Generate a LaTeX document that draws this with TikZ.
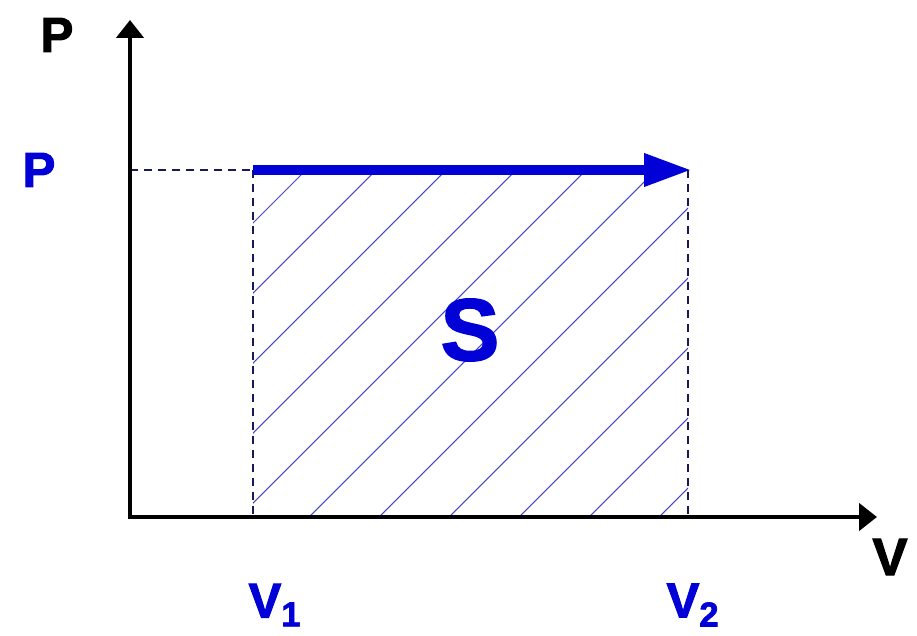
\documentclass[tikz,border=0pt]{standalone}
\usepackage{fontspec}
\setmainfont{Liberation Sans}
\newfontfamily\heavyfont[FakeBold=2]{Liberation Sans Bold}
\usetikzlibrary{arrows.meta,positioning}

\definecolor{pvblue}{RGB}{0,0,215}
\definecolor{hatchblue}{RGB}{70,70,195}
\definecolor{dashnavy}{RGB}{25,25,90}

\begin{document}
\begin{tikzpicture}[
    axis/.style={line width=2.8pt, -{Triangle[length=0.36cm, width=0.54cm]}},
    work/.style={pvblue, line width=5.5pt, -{Triangle[length=0.95cm, width=0.62cm]}, shorten >=-2pt},
    guide/.style={dashnavy, line width=0.8pt, dash pattern=on 0.16cm off 0.12cm},
    hatch/.style={hatchblue, line width=0.6pt},
    lbl/.style={font=\fontsize{28}{30}\heavyfont, inner sep=0pt},
  ]
  \useasboundingbox (-2.6,-2.36) rectangle (15.74,10.34);

  % corner points
  \coordinate (O) at (0,0);
  \coordinate (ytip) at (0,9.94);
  \coordinate (xtip) at (14.94,0);
  \coordinate (a) at (2.46,6.94);
  \coordinate (b) at (11.16,6.94);
  \coordinate (a0) at (2.46,0);
  \coordinate (b0) at (11.16,0);
  \coordinate (pa) at (0,6.94);

  % hatched area S
  \begin{scope}
    \clip (a0) rectangle (b);
    \foreach \k in {-9,...,3}
      \draw[hatch] (7.78+1.4*\k,0) -- ++(9,9);
  \end{scope}

  % dashed guides
  \draw[guide] (pa) -- (a);
  \draw[guide] (a) -- (a0);
  \draw[guide] (b) -- (b0);

  % axes
  \draw[axis] (O) -- (ytip);
  \draw[axis] ([xshift=-1.4pt]O) -- (xtip);

  % isobaric process
  \draw[work] (a) -- (b);

  % labels
  \node[lbl] (py) at (-1.46,9.64) {P};
  \node[lbl, pvblue] (pp) at (-1.82,6.94) {P};
  \node[lbl, font=\fontsize{30}{32}\heavyfont] (vx) at (15.2,-0.8) {V};
  \node[lbl, pvblue, font=\fontsize{50}{52}\heavyfont] (s) at (6.8,3.74) {S};
  \node[lbl, pvblue] (v1) at (2.9,-1.76) {V\textsubscript{1}};
  \node[lbl, pvblue] (v2) at (11.26,-1.76) {V\textsubscript{2}};
\end{tikzpicture}
\end{document}
